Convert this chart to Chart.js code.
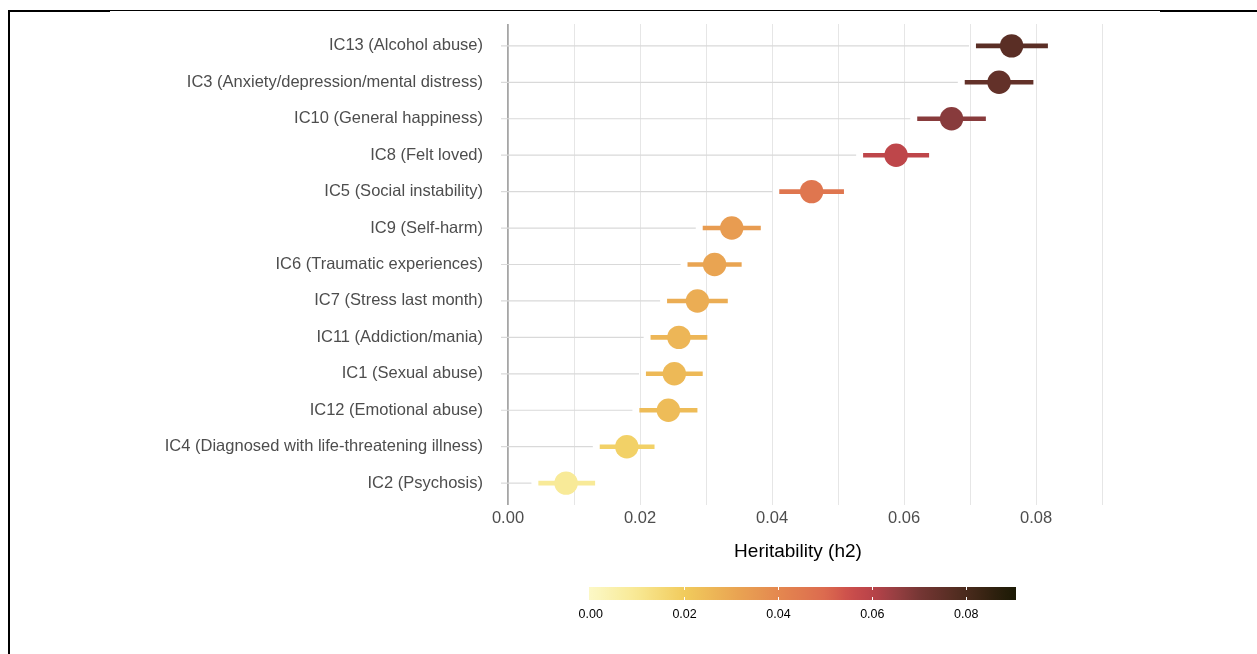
<!DOCTYPE html>
<html>
<head>
<meta charset="utf-8">
<script src="https://cdn.jsdelivr.net/npm/chart.js@4.4.1/dist/chart.umd.min.js"></script>
<style>
  html, body { margin: 0; padding: 0; background: #ffffff; }
  #wrap { position: relative; width: 1257px; height: 654px; overflow: hidden; font-family: "Liberation Sans", Arial, Helvetica, sans-serif; }
  #chart { position: absolute; left: 0; top: 0; }
  .rule { position: absolute; background: #000; }
  #xtitle { position: absolute; left: 598px; width: 400px; top: 539px; text-align: center; font-size: 19px; color: #000; line-height: 24px; }
  #cbar { position: absolute; left: 589px; top: 587px; width: 427px; height: 13px; }
  .cbtick { position: absolute; width: 1px; height: 3px; background: #ffffff; }
  .cblab { position: absolute; width: 60px; text-align: center; font-size: 12.5px; color: #000; top: 606px; line-height: 16px; }
</style>
</head>
<body>
<div id="wrap">
  <canvas id="chart" width="1257" height="654"></canvas>
  <div class="rule" style="left:8px; top:10px; width:102px; height:2px;"></div>
  <div class="rule" style="left:110px; top:10px; width:1050px; height:1px;"></div>
  <div class="rule" style="left:1160px; top:10px; width:97px; height:2px;"></div>
  <div class="rule" style="left:8px; top:10px; width:2px; height:644px;"></div>
  <div id="xtitle">Heritability (h2)</div>
  <div id="cbar"></div>
</div>
<script>
// ---- data (top-to-bottom order) ----
const categories = [
  "IC13 (Alcohol abuse)",
  "IC3 (Anxiety/depression/mental distress)",
  "IC10 (General happiness)",
  "IC8 (Felt loved)",
  "IC5 (Social instability)",
  "IC9 (Self-harm)",
  "IC6 (Traumatic experiences)",
  "IC7 (Stress last month)",
  "IC11 (Addiction/mania)",
  "IC1 (Sexual abuse)",
  "IC12 (Emotional abuse)",
  "IC4 (Diagnosed with life-threatening illness)",
  "IC2 (Psychosis)"
];
const heritability = [0.0763, 0.0744, 0.0672, 0.0588, 0.0460, 0.0339, 0.0313, 0.0287, 0.0259, 0.0252, 0.0243, 0.0180, 0.0088];
const ciLower      = [0.0709, 0.0692, 0.0620, 0.0538, 0.0411, 0.0295, 0.0272, 0.0241, 0.0216, 0.0209, 0.0199, 0.0139, 0.0046];
const ciUpper      = [0.0818, 0.0796, 0.0724, 0.0638, 0.0509, 0.0383, 0.0354, 0.0333, 0.0302, 0.0295, 0.0287, 0.0222, 0.0132];
const xTickLabels  = [0.00, 0.02, 0.04, 0.06, 0.08];
const xGridValues  = [0.00, 0.01, 0.02, 0.03, 0.04, 0.05, 0.06, 0.07, 0.08, 0.09];
const legendTicks  = [0.00, 0.02, 0.04, 0.06, 0.08];
const legendRange  = [-0.00036, 0.0906];

// ---- styling ----
const X_MIN = -0.00106, X_MAX = 0.09848;
const SEG_GAP = 0.00105;
const ramp = [
  [0.000, [252, 248, 198]],
  [0.010, [248, 232, 146]],
  [0.020, [241, 203, 92]],
  [0.030, [234, 168, 83]],
  [0.040, [228, 136, 79]],
  [0.050, [220, 106, 79]],
  [0.055, [204, 79, 75]],
  [0.060, [185, 67, 74]],
  [0.065, [151, 63, 66]],
  [0.070, [118, 54, 52]],
  [0.080, [74, 42, 28]],
  [0.090, [28, 26, 5]]
];
function colorFor(v) {
  if (v <= ramp[0][0]) return rgb(ramp[0][1]);
  for (let i = 1; i < ramp.length; i++) {
    if (v <= ramp[i][0]) {
      const t = (v - ramp[i-1][0]) / (ramp[i][0] - ramp[i-1][0]);
      const a = ramp[i-1][1], b = ramp[i][1];
      return rgb([0,1,2].map(k => a[k] + (b[k] - a[k]) * t));
    }
  }
  return rgb(ramp[ramp.length-1][1]);
}
function rgb(c) { return 'rgb(' + c.map(x => Math.round(x)).join(',') + ')'; }

const colors = heritability.map(colorFor);

// ---- datasets ----
const datasets = [];
datasets.push({
  label: 'h2',
  data: heritability.map((v, i) => ({ x: v, y: i + 1 })),
  backgroundColor: colors,
  borderWidth: 0,
  pointRadius: 11.7,
  pointHoverRadius: 11.7,
  showLine: false
});
categories.forEach((c, i) => {
  datasets.push({
    label: 'ci ' + c,
    data: [{ x: ciLower[i], y: i + 1 }, { x: ciUpper[i], y: i + 1 }],
    borderColor: colors[i],
    borderWidth: 4.6,
    borderCapStyle: 'butt',
    pointRadius: 0,
    pointHoverRadius: 0,
    showLine: true
  });
});
categories.forEach((c, i) => {
  datasets.push({
    label: 'seg ' + c,
    data: [{ x: X_MIN, y: i + 1 }, { x: ciLower[i] - SEG_GAP, y: i + 1 }],
    borderColor: '#d9d9d9',
    borderWidth: 1.2,
    pointRadius: 0,
    pointHoverRadius: 0,
    showLine: true
  });
});

new Chart(document.getElementById('chart'), {
  type: 'scatter',
  data: { datasets },
  options: {
    responsive: false,
    animation: false,
    devicePixelRatio: 1,
    layout: { padding: { top: 24, right: 99, bottom: 0, left: 0 } },
    plugins: { legend: { display: false }, tooltip: { enabled: false } },
    scales: {
      x: {
        type: 'linear',
        min: X_MIN,
        max: X_MAX,
        afterBuildTicks: s => { s.ticks = xGridValues.map(v => ({ value: v })); },
        afterFit: s => { s.height = 149; s.paddingLeft = 0; s.paddingRight = 0; },
        grid: {
          drawTicks: false,
          color: ctx => (ctx.tick && Math.abs(ctx.tick.value) < 1e-9) ? '#a6a6a6' : '#e6e6e6',
          lineWidth: ctx => (ctx.tick && Math.abs(ctx.tick.value) < 1e-9) ? 1.8 : 1
        },
        border: { display: false },
        ticks: {
          padding: 4,
          autoSkip: false,
          maxRotation: 0,
          color: '#4d4d4d',
          font: { family: '"Liberation Sans", Arial, sans-serif', size: 16.5 },
          callback: v => xTickLabels.some(t => Math.abs(t - v) < 1e-9) ? v.toFixed(2) : ''
        }
      },
      y: {
        type: 'linear',
        reverse: true,
        min: 0.4,
        max: 13.6,
        afterBuildTicks: s => { s.ticks = categories.map((c, i) => ({ value: i + 1 })); },
        afterFit: s => { s.width = 501; s.paddingTop = 0; s.paddingBottom = 0; },
        grid: { display: false, drawTicks: false },
        border: { display: false },
        ticks: {
          padding: 18,
          autoSkip: false,
          color: '#4d4d4d',
          font: { family: '"Liberation Sans", Arial, sans-serif', size: 16.5 },
          callback: v => categories[Math.round(v) - 1] || ''
        }
      }
    }
  }
});

// ---- colour bar legend ----
(function () {
  const bar = document.getElementById('cbar');
  const wrap = document.getElementById('wrap');
  const left = 589, width = 427, top = 587, height = 13;
  const span = legendRange[1] - legendRange[0];
  const stops = [];
  for (let k = 0; k <= 40; k++) {
    const v = legendRange[0] + span * k / 40;
    stops.push(colorFor(v) + ' ' + (k * 2.5).toFixed(1) + '%');
  }
  bar.style.background = 'linear-gradient(to right, ' + stops.join(', ') + ')';
  legendTicks.forEach(v => {
    const px = left + (v - legendRange[0]) / span * width;
    if (v > legendRange[0] + 0.001) {
      const t1 = document.createElement('div');
      t1.className = 'cbtick';
      t1.style.left = (px - 0.5) + 'px'; t1.style.top = top + 'px';
      wrap.appendChild(t1);
      const t2 = document.createElement('div');
      t2.className = 'cbtick';
      t2.style.left = (px - 0.5) + 'px'; t2.style.top = (top + height - 3) + 'px';
      wrap.appendChild(t2);
    }
    const lab = document.createElement('div');
    lab.className = 'cblab';
    lab.style.left = (px - 30) + 'px';
    lab.textContent = v.toFixed(2);
    wrap.appendChild(lab);
  });
})();
</script>
</body>
</html>
